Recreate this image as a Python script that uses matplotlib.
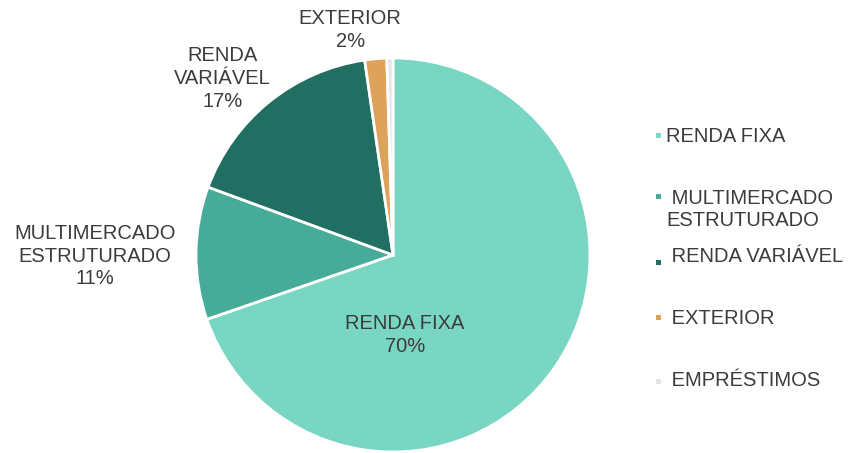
import numpy as np
import matplotlib
matplotlib.use("Agg")
import matplotlib.pyplot as plt
from matplotlib.patches import Rectangle

plt.rcParams['font.family'] = ['Liberation Sans', 'DejaVu Sans']

categories = ["RENDA FIXA", " MULTIMERCADO\nESTRUTURADO", " RENDA VARIÁVEL", " EXTERIOR", " EMPRÉSTIMOS"]
slice_labels = ["RENDA FIXA", "MULTIMERCADO\nESTRUTURADO", "RENDA\nVARIÁVEL", "EXTERIOR", None]
values = [69.7, 10.9, 17.1, 1.8, 0.5]
colors = ["#79D6C3", "#47AB9A", "#216E62", "#DDA35A", "#E4E4E4"]

W, H = 864, 453
fig = plt.figure(figsize=(W / 100, H / 100), dpi=100)
cx, cy, r = 393, 255, 197
ax = fig.add_axes([(cx - r) / W, (H - cy - r) / H, 2 * r / W, 2 * r / H])

wedges, _ = ax.pie(values, colors=colors, startangle=90, counterclock=False,
                   radius=1.0, wedgeprops=dict(edgecolor="white", linewidth=2))
ax.set_aspect("equal")
ax.set_xlim(-1, 1)
ax.set_ylim(-1, 1)

TXT = "#3C3C3C"
FS = 14.5
# label placement (radius, angle in degrees) per slice
place = [(0.41, -81.5), (1.513, 180.2), (1.245, 134.0), (1.163, 100.8), None]
total = sum(values)
for w, lab, v, p in zip(wedges, slice_labels, values, place):
    if lab is None or p is None:
        continue
    rad, ang = p
    x = rad * np.cos(np.radians(ang))
    y = rad * np.sin(np.radians(ang))
    ax.text(x, y, f"{lab}\n{round(v / total * 100)}%", ha="center", va="center",
            fontsize=FS, color=TXT, linespacing=1.25)

# manual legend (Excel-like uneven spacing)
leg_text_y = [137, 209, 257, 319, 381]
leg_mark_y = [135, 197, 262, 317, 381]
mx, tx, ms = 658, 666, 5
for c, lab, ty, my in zip(colors, categories, leg_text_y, leg_mark_y):
    fig.patches.append(Rectangle(((mx - ms / 2) / W, 1 - (my + ms / 2) / H), ms / W, ms / H,
                                 transform=fig.transFigure, facecolor=c, edgecolor="none"))
    fig.text(tx / W, 1 - ty / H, lab, ha="left", va="center", fontsize=FS,
             color=TXT, linespacing=1.2)

fig.savefig("out.png", dpi=100)
